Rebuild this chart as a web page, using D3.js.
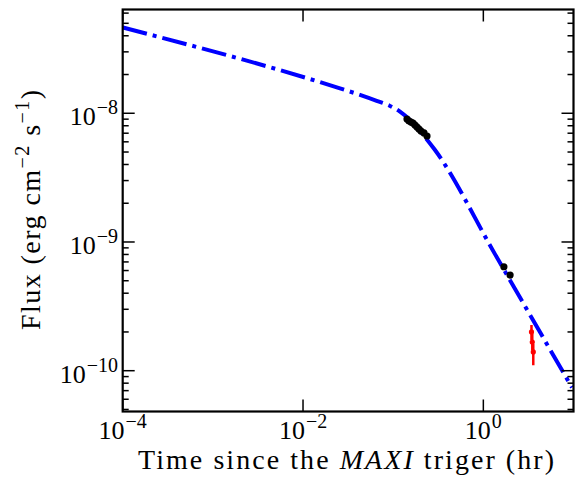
<!DOCTYPE html>
<html><head><meta charset="utf-8">
<script src="https://cdn.jsdelivr.net/npm/d3@7"></script>
<style>html,body{margin:0;padding:0;background:#fff;}svg{display:block;}</style>
</head><body>
<script>
// ---- data ----
const modelT = [1e-4, 0.0257, 0.0428, 0.0656, 0.0923, 0.119, 0.154, 0.198, 0.291, 1.346, 4.44, 9.62];
const modelF = [4.64e-8, 1.56e-8, 1.39e-8, 1.25e-8, 1.14e-8, 1.03e-8, 8.85e-9, 7.27e-9, 5.18e-9, 8.05e-10, 1.89e-10, 7.41e-11];

const xrtT = [0.1423, 0.1498, 0.1576, 0.1659, 0.1746, 0.1837, 0.1933, 0.2035, 0.2197, 0.2372, 1.69, 1.98];
const xrtF = [9.02e-9, 8.71e-9, 8.55e-9, 8.40e-9, 8.10e-9, 7.82e-9, 7.55e-9, 7.28e-9, 7.03e-9, 6.66e-9, 6.42e-10, 5.53e-10];

const redT = [3.42, 3.49, 3.58];
const redF = [2.00e-10, 1.67e-10, 1.40e-10];
const redHi = [2.26e-10, 1.93e-10, 1.61e-10];
const redLo = [1.73e-10, 1.45e-10, 1.10e-10];

const xTicks = [1e-4, 1e-2, 1e0];
const xTickExp = ["−4", "−2", "0"];
const yTicks = [1e-8, 1e-9, 1e-10];
const yTickExp = ["−8", "−9", "−10"];

// ---- layout ----
const W = 576, H = 478;
const L = 122.7, R = 573.5, T = 9.5, B = 411.5;
const FONT = "'Liberation Serif', 'DejaVu Serif', serif";

const svg = d3.select("body").append("svg").attr("width", W).attr("height", H);
const x = d3.scaleLog().domain([1e-4, 10]).range([L, R]);
const y = d3.scaleLog().domain([4.82e-11, 6.4e-8]).range([B, T]);

svg.append("defs").append("clipPath").attr("id", "clip")
  .append("rect").attr("x", L).attr("y", T).attr("width", R - L).attr("height", B - T);

const g = svg.append("g").attr("clip-path", "url(#clip)");

// model line
const line = d3.line().x((d, i) => x(modelT[i])).y((d, i) => y(modelF[i])).curve(d3.curveMonotoneX);
g.append("path").datum(modelT).attr("d", line)
  .attr("fill", "none").attr("stroke", "#0000ff").attr("stroke-width", 4)
  .attr("stroke-dasharray", "25,6,4,6");

// black points
g.selectAll("circle.xrt").data(xrtT).enter().append("circle")
  .attr("class", "xrt").attr("cx", d => x(d)).attr("cy", (d, i) => y(xrtF[i]))
  .attr("r", 3.6).attr("fill", "#000");

// red points with error bars
g.selectAll("line.rerr").data(redT).enter().append("line")
  .attr("x1", d => x(d)).attr("x2", d => x(d))
  .attr("y1", (d, i) => y(redHi[i])).attr("y2", (d, i) => y(redLo[i]))
  .attr("stroke", "#ff0000").attr("stroke-width", 2.5);
g.selectAll("circle.red").data(redT).enter().append("circle")
  .attr("cx", d => x(d)).attr("cy", (d, i) => y(redF[i]))
  .attr("r", 2.6).attr("fill", "#ff0000");

// ---- axes (ticks inward) ----
const major = 12, minor = 6;
const axG = svg.append("g");
const yMinor = [];
[1e-11, 1e-10, 1e-9, 1e-8].forEach(dec => { for (let k = 2; k <= 9; k++) { const v = k * dec; if (v >= y.domain()[0] && v <= y.domain()[1]) yMinor.push(v); } });
yMinor.forEach(v => {
  axG.append("line").attr("x1", L).attr("x2", L + minor).attr("y1", y(v)).attr("y2", y(v)).attr("stroke", "#000").attr("stroke-width", 1.5);
  axG.append("line").attr("x1", R).attr("x2", R - minor).attr("y1", y(v)).attr("y2", y(v)).attr("stroke", "#000").attr("stroke-width", 1.5);
});
yTicks.forEach((v, i) => {
  axG.append("line").attr("x1", L).attr("x2", L + major).attr("y1", y(v)).attr("y2", y(v)).attr("stroke", "#000").attr("stroke-width", 1.5);
  axG.append("line").attr("x1", R).attr("x2", R - major).attr("y1", y(v)).attr("y2", y(v)).attr("stroke", "#000").attr("stroke-width", 1.5);
  const t = axG.append("text").attr("x", 118).attr("y", y(v) + 12).attr("text-anchor", "end")
    .attr("font-family", FONT).attr("font-size", 26).attr("font-weight", 300);
  t.append("tspan").text("10");
  t.append("tspan").attr("dy", -11).attr("dx", 1).attr("font-size", 20).text(yTickExp[i]);
});
xTicks.forEach((v, i) => {
  axG.append("line").attr("x1", x(v)).attr("x2", x(v)).attr("y1", B).attr("y2", B - major).attr("stroke", "#000").attr("stroke-width", 1.5);
  axG.append("line").attr("x1", x(v)).attr("x2", x(v)).attr("y1", T).attr("y2", T + major).attr("stroke", "#000").attr("stroke-width", 1.5);
  const t = axG.append("text").attr("x", x(v)).attr("y", 439).attr("text-anchor", "middle")
    .attr("font-family", FONT).attr("font-size", 26).attr("font-weight", 300);
  t.append("tspan").text("10");
  t.append("tspan").attr("dy", -11).attr("dx", 1).attr("font-size", 20).text(xTickExp[i]);
});

// frame
svg.append("rect").attr("x", L).attr("y", T).attr("width", R - L).attr("height", B - T)
  .attr("fill", "none").attr("stroke", "#000").attr("stroke-width", 2.2);

// axis labels
const xl = svg.append("text").attr("x", 346).attr("y", 469).attr("text-anchor", "middle")
  .attr("font-family", FONT).attr("font-size", 28).attr("font-weight", 300)
  .attr("textLength", 416).attr("lengthAdjust", "spacing");
xl.append("tspan").text("Time since the ");
xl.append("tspan").attr("font-style", "italic").text("MAXI");
xl.append("tspan").text(" triger (hr)");

const yl = svg.append("text").attr("transform", "translate(40,210) rotate(-90)").attr("text-anchor", "middle")
  .attr("font-family", FONT).attr("font-size", 28).attr("font-weight", 300)
  .attr("textLength", 240).attr("lengthAdjust", "spacing");
yl.append("tspan").text("Flux (erg cm");
yl.append("tspan").attr("dy", -11).attr("font-size", 20).text("−2");
yl.append("tspan").attr("dy", 11).text(" s");
yl.append("tspan").attr("dy", -11).attr("font-size", 20).text("−1");
yl.append("tspan").attr("dy", 11).text(")");
</script>
</body></html>
